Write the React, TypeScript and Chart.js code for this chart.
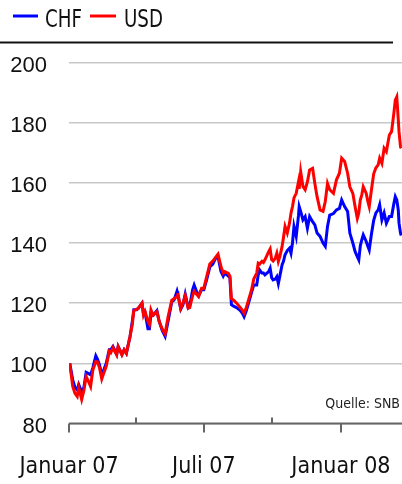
import React, { useEffect, useRef } from "react";
import { Chart, registerables } from "chart.js";

Chart.register(...registerables);

// Days since 1 January 2007
const DAYS = [
  1, 5, 8, 11, 13, 17, 20, 23, 27, 29,
  32, 36, 38, 41, 44, 47, 50, 54, 56, 59,
  64, 66, 71, 74, 77, 82, 85, 87, 91, 93,
  98, 100, 102, 106, 108, 110, 113, 118, 121, 125,
  129, 133, 138, 141, 145, 146, 150, 153, 156, 160,
  162, 166, 168, 171, 174, 178, 181, 185, 189, 193,
  197, 200, 204, 207, 209, 214, 216, 218, 221, 225,
  230, 233, 235, 238, 241, 245, 248, 252, 254, 256,
  259, 261, 263, 268, 270, 272, 274, 277, 279, 281,
  283, 286, 288, 290, 293, 296, 298, 300, 302, 305,
  308, 309, 311, 314, 317, 320, 323, 327, 330, 333,
  337, 341, 344, 347, 350, 355, 359, 363, 366, 370,
  374, 377, 381, 384, 387, 389, 391, 393, 395, 399,
  401, 403, 406, 409, 412, 415, 417, 420, 423, 426,
  430, 433, 436, 438, 440, 442, 443, 445, 446,
];

const CHF = [
  100, 94.5, 92, 91.2, 93, 90.5, 92, 97, 96.5, 96.2,
  98.5, 102.5, 101.5, 99.5, 96, 98, 100, 104.5, 104.5, 105.6,
  103, 105.6, 103, 104.5, 103.3, 109, 114, 117.8, 117.8, 118.3,
  120, 116.5, 117, 111.5, 111.5, 116.5, 116, 117.5, 114, 111,
  109, 114, 120.5, 121, 124, 123, 118, 119.5, 123, 118.5,
  119, 124.5, 126, 124, 122.5, 124.5, 124.5, 128, 132, 133,
  135, 135.5, 130.5, 129, 130, 129, 128.5, 119.5, 119, 118.5,
  117.5, 116.5, 115.5, 117.5, 120, 123.5, 126, 126, 129.4, 131,
  130, 130, 129.4, 130.5, 131.6, 128.5, 127.7, 128, 128.8, 126.5,
  129, 132.7, 134, 136.1, 137.5, 138.3, 136.6, 140, 145.5, 142.2,
  149, 152.1, 150.5, 147.7, 148.8, 144.9, 148.8, 147.1, 146, 143.3,
  142.2, 140, 138.9, 145.5, 149.3, 149.8, 151, 151.5, 154.3, 152.1,
  150.5, 143.3, 140, 137.2, 135.5, 134.4, 139, 141, 142.7, 140.5,
  139, 137.7, 143, 147.5, 150, 151, 152.7, 147.7, 150, 146.6,
  148.8, 148.8, 153, 155.4, 154.3, 151, 146.6, 143.3, 142.5,
];

const USD = [
  100, 92.3, 90, 89, 92, 88, 91, 95.6, 93.5, 92.3,
  97.8, 100.6, 100.5, 98.5, 94.8, 97, 99, 104, 103.5, 105.2,
  102.8, 105.6, 102.8, 104.5, 103.3, 109, 113, 117.5, 118, 118.3,
  120, 116, 117.2, 113.9, 113, 117.8, 116, 117.2, 114, 111.5,
  109.8, 115.5, 121, 121.5, 122.2, 123.3, 118.3, 120, 122.5, 118.3,
  118.5, 122.5, 124, 123, 122.2, 125, 125, 129, 133, 134,
  135.3, 136.3, 132.2, 130, 130.5, 129.9, 129, 121.5, 121, 120,
  118.5, 117.5, 116.7, 118.5, 121.1, 124.4, 128, 130, 133.3, 133,
  133.9, 133.5, 134.4, 137.1, 138, 134.5, 134, 135, 136.6, 133.9,
  135.5, 138.8, 142, 145.5, 143.3, 146.6, 150, 152.1, 155, 156.5,
  160.3, 158, 163.7, 158.8, 157.7, 160.3, 164.3, 164.8, 159.8, 155.4,
  151, 150.5, 153.8, 159.8, 157.7, 156.5, 161, 163.2, 168.2, 167.1,
  163.2, 158.7, 156.5, 152.1, 148.2, 150, 154.3, 156, 158.7, 156.5,
  154, 152.1, 157.7, 163, 165, 166, 168.2, 166.5, 171.5, 170.4,
  175.9, 177, 183, 187.5, 188.6, 181, 177, 172, 171.5,
];

const SERIES_NAMES = ["CHF", "USD"];
const Y_TICKS = [80, 100, 120, 140, 160, 180, 200];
const X_LABEL_DAYS = [0, 181, 365];
const X_LABELS = ["Januar 07", "Juli 07", "Januar 08"];
const X_MINOR_DAYS = [90, 273];
const X_MAX_DAY = 447;
const SOURCE = "Quelle: SNB";

const BLUE = "#0000ff";
const RED = "#ff0000";
const COND = "'DejaVu Sans Condensed', 'Liberation Sans Narrow', 'DejaVu Sans', sans-serif";

export default function App() {
  const ref = useRef<HTMLCanvasElement>(null);

  useEffect(() => {
    document.body.style.margin = "0";
    const canvas = ref.current;
    if (!canvas) return;

    const decor = {
      id: "decor",
      afterDraw(chart: any) {
        const c = chart.ctx as CanvasRenderingContext2D;
        const xs = chart.scales.x;
        const ca = chart.chartArea;
        c.save();
        // top rule
        c.fillStyle = "#111";
        c.fillRect(0, 41.5, 393, 2);

        // legend
        c.lineWidth = 3;
        c.strokeStyle = BLUE;
        c.beginPath();
        c.moveTo(13, 16);
        c.lineTo(38, 16);
        c.stroke();
        c.strokeStyle = RED;
        c.beginPath();
        c.moveTo(90, 16);
        c.lineTo(116, 16);
        c.stroke();
        c.fillStyle = "#111";
        c.font = `25px ${COND}`;
        c.textAlign = "left";
        c.textBaseline = "alphabetic";
        c.fillText(SERIES_NAMES[0], 45, 27, 37);
        c.fillText(SERIES_NAMES[1], 124, 27, 39);

        // x axis line
        c.fillStyle = "#666";
        c.fillRect(ca.left, ca.bottom - 1, ca.right - ca.left, 2);
        // tick marks
        c.strokeStyle = "#666";
        c.lineWidth = 2;
        X_LABEL_DAYS.forEach((d) => {
          const px = Math.round(xs.getPixelForValue(d));
          c.beginPath();
          c.moveTo(px, ca.bottom);
          c.lineTo(px, ca.bottom + 9);
          c.stroke();
        });
        X_MINOR_DAYS.forEach((d) => {
          const px = Math.round(xs.getPixelForValue(d));
          c.beginPath();
          c.moveTo(px, ca.bottom - 6);
          c.lineTo(px, ca.bottom);
          c.stroke();
        });

        // source
        c.fillStyle = "#222";
        c.font = `14px ${COND}`;
        c.textAlign = "right";
        c.fillText(SOURCE, 400, 408);
        c.restore();
      },
    };

    const chart = new Chart(canvas, {
      type: "line",
      data: {
        datasets: [
          {
            label: SERIES_NAMES[0],
            data: DAYS.map((d, i) => ({ x: d, y: CHF[i] })),
            borderColor: BLUE,
            backgroundColor: BLUE,
            borderWidth: 3,
            pointRadius: 0,
            tension: 0,
            order: 2,
          },
          {
            label: SERIES_NAMES[1],
            data: DAYS.map((d, i) => ({ x: d, y: USD[i] })),
            borderColor: RED,
            backgroundColor: RED,
            borderWidth: 3,
            pointRadius: 0,
            tension: 0,
            order: 1,
          },
        ],
      },
      options: {
        animation: false,
        responsive: false,
        maintainAspectRatio: false,
        layout: { padding: { top: 62.5, left: 0, right: 0, bottom: 0 } },
        plugins: {
          legend: { display: false },
          tooltip: { enabled: false },
        },
        scales: {
          x: {
            type: "linear",
            min: 0,
            max: X_MAX_DAY,
            grid: { display: false, drawTicks: false },
            border: { display: false },
            afterBuildTicks: (scale: any) => {
              scale.ticks = X_LABEL_DAYS.map((v) => ({ value: v }));
            },
            afterFit: (scale: any) => {
              scale.height = 60.5;
              scale.paddingLeft = 0;
              scale.paddingRight = 0;
            },
            ticks: {
              autoSkip: false,
              maxRotation: 0,
              padding: 30,
              color: "#111",
              font: { family: COND, size: 23 },
              callback: (v: any) => X_LABELS[X_LABEL_DAYS.indexOf(Number(v))] ?? "",
            },
          },
          y: {
            min: 80,
            max: 200,
            grid: { color: "#c8c8c8", lineWidth: 1.5, drawTicks: false },
            border: { display: false },
            afterBuildTicks: (scale: any) => {
              scale.ticks = Y_TICKS.map((v) => ({ value: v }));
            },
            afterFit: (scale: any) => {
              scale.width = 69;
              scale.paddingTop = 0;
              scale.paddingBottom = 0;
            },
            ticks: {
              padding: 22,
              labelOffset: 3,
              color: "#111",
              font: { family: "'Liberation Sans', Arial, sans-serif", size: 22 },
            },
          },
        },
      },
      plugins: [decor],
    });

    return () => chart.destroy();
  }, []);

  return (
    <div style={{ width: 402, height: 484, position: "relative" }}>
      <canvas ref={ref} width={402} height={484} style={{ display: "block", width: 402, height: 484 }} />
    </div>
  );
}
